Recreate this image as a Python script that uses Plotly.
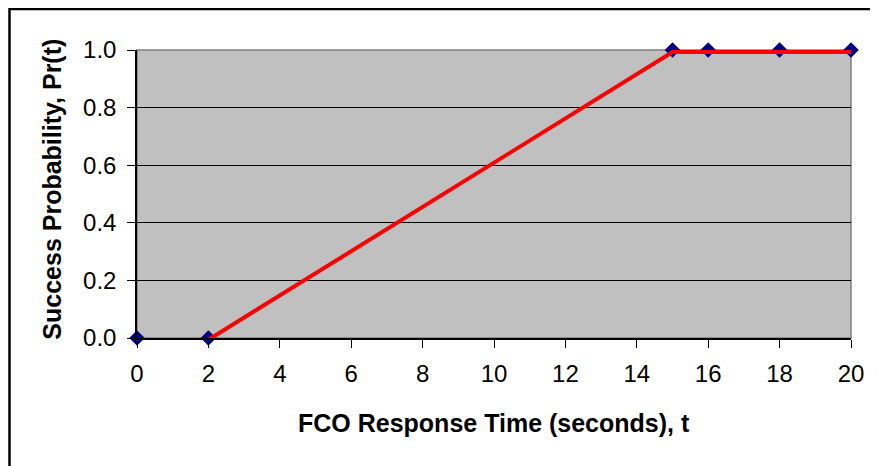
import plotly.graph_objects as go

# Data
t_points = [0, 2, 15, 16, 18, 20]
pr_points = [0.0, 0.0, 1.0, 1.0, 1.0, 1.0]
t_fit = [0, 2, 15, 16, 18, 20]
pr_fit = [-0.012, -0.006, 0.993, 0.993, 0.993, 0.993]
x_ticks = [0, 2, 4, 6, 8, 10, 12, 14, 16, 18, 20]
y_ticks = [0.0, 0.2, 0.4, 0.6, 0.8, 1.0]

# figure sits at an 8px page offset
W, H = 870, 458
ml, mr, mt, mb = 129, 27, 42, 128
pw, ph = W - ml - mr, H - mt - mb

FONT = "Liberation Sans, Arial, sans-serif"

fig = go.Figure()
fig.add_trace(go.Scatter(
    x=t_points, y=pr_points, mode="markers",
    marker=dict(symbol="diamond", size=12, color="#000080"),
    showlegend=False, cliponaxis=False,
))
fig.add_trace(go.Scatter(
    x=t_fit, y=pr_fit, mode="lines",
    line=dict(color="#FF0000", width=4),
    showlegend=False, cliponaxis=False,
))

# outer chart border (extends off the bottom/right of the page)
fig.add_shape(type="rect", xref="paper", yref="paper",
              x0=(1.5 - ml) / pw, x1=(W + 30 - ml) / pw,
              y0=-(H + 30 - mt - ph) / ph, y1=(ph + mt - 1) / ph,
              line=dict(color="black", width=2.5), fillcolor="rgba(0,0,0,0)")
# plot-area border (gray top/right)
fig.add_shape(type="rect", xref="paper", yref="paper", x0=0, x1=1, y0=0, y1=1,
              line=dict(color="#808080", width=1.5), fillcolor="rgba(0,0,0,0)",
              layer="below")

fig.add_annotation(text="<b>FCO Response Time (seconds), t</b>",
                   xref="paper", yref="paper", x=0.5, y=-85 / ph,
                   xanchor="center", yanchor="middle", showarrow=False,
                   font=dict(size=25, family=FONT, color="black"))
fig.add_annotation(text="<b>Success Probability, Pr(t)</b>",
                   xref="paper", yref="paper", x=-85 / pw, y=0.515,
                   xanchor="center", yanchor="middle", showarrow=False,
                   textangle=-90,
                   font=dict(size=25, family=FONT, color="black"))

fig.update_layout(
    width=W, height=H,
    margin=dict(l=ml, r=mr, t=mt, b=mb),
    paper_bgcolor="white", plot_bgcolor="#C0C0C0",
    font=dict(family=FONT, color="black", size=24),
    xaxis=dict(
        range=[0, 20], tickvals=x_ticks, ticktext=[str(v) for v in x_ticks],
        showgrid=False, zeroline=False,
        showline=True, linecolor="black", linewidth=1.5,
        ticks="outside", ticklen=8, tickcolor="black",
        tickfont=dict(size=24), ticklabelstandoff=5,
    ),
    yaxis=dict(
        range=[0, 1], tickvals=y_ticks, tickformat=".1f",
        showgrid=True, gridcolor="black", gridwidth=1,
        zeroline=False,
        showline=True, linecolor="black", linewidth=1.5,
        ticks="outside", ticklen=8, tickcolor="black",
        tickfont=dict(size=24), ticklabelstandoff=6,
    ),
)

fig.write_html("out.html")
